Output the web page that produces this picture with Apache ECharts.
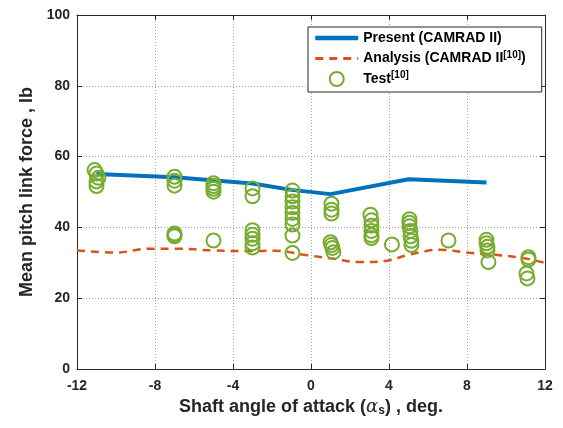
<!DOCTYPE html>
<html>
<head>
<meta charset="utf-8">
<script src="https://cdn.jsdelivr.net/npm/echarts@6/dist/echarts.min.js"></script>
<style>html,body{margin:0;padding:0;background:#fff}#c{width:563px;height:428px}</style>
</head>
<body>
<div id="c"></div>
<script>
// Present (CAMRAD II)
const presentX = [-11, -7, -3, -1, 1, 5, 9];
const presentY = [55.1, 54.2, 52.4, 50.6, 49.4, 53.6, 52.7];
// Analysis (CAMRAD II [10])
const analysisX = [-12, -10, -8.3, -7, -5, -3.3, -1.8, -0.4, 1.1, 2.5, 3.9, 4.9, 5.9, 6.6, 8, 9.3, 10.7, 12];
const analysisY = [33.5, 32.9, 34.0, 34.0, 33.5, 33.3, 33.4, 32.3, 31.2, 30.2, 30.6, 32.1, 33.3, 33.7, 32.9, 32.3, 31.5, 30.0];
// Test [10]
const testX = [-11.1, -11, -10.9, -11, -11,
  -7, -7, -7, -7, -7, -7,
  -5, -5, -5, -5, -5,
  -3, -3, -3, -3, -3, -3, -3,
  -0.95, -0.95, -0.95, -0.95, -0.95, -0.95, -0.95, -0.95, -0.95,
  1.05, 1.05, 1.05, 1.0, 1.05, 1.1, 1.15,
  3.05, 3.1, 3.1, 3.1, 3.1, 3.1,
  4.15,
  5.05, 5.05, 5.05, 5.1, 5.1, 5.15, 5.15,
  7.05,
  9.0, 9.0, 9.05, 9.05, 9.1,
  11.15, 11.15, 11.05, 11.1];
const testY = [56.2, 55.2, 54.0, 53.0, 51.7,
  54.3, 53.2, 51.8, 38.3, 37.8, 37.5,
  52.5, 51.7, 50.9, 50.1, 36.3,
  51.0, 48.8, 39.2, 37.9, 36.8, 35.5, 34.3,
  50.4, 48.8, 47.3, 45.7, 44.1, 42.4, 40.8, 37.7, 32.8,
  46.7, 45.0, 43.9, 35.8, 35.0, 34.2, 33.0,
  43.6, 42.0, 40.5, 39.0, 37.8, 37.0,
  35.2,
  42.3, 41.3, 40.3, 39.0, 37.5, 36.2, 35.0,
  36.3,
  36.5, 35.5, 34.5, 33.5, 30.2,
  31.6, 30.9, 27.0, 25.6];
const xTicks = {min: -12, max: 12, interval: 4};
const yTicks = {min: 0, max: 100, interval: 20};

const pair = (xs, ys) => xs.map((x, i) => [x, ys[i]]);
const FONT = '"Liberation Sans", Arial, sans-serif';
const gridLine = {show: true, lineStyle: {color: '#a0a0a0', type: [1, 2], width: 1}};
const axLine = {show: true, onZero: false, lineStyle: {color: '#262626', width: 1}};
const tick = {show: true, inside: true, length: 5, lineStyle: {color: '#262626'}};

const chart = echarts.init(document.getElementById('c'), null, {renderer: 'canvas'});
chart.setOption({
  animation: false,
  backgroundColor: '#ffffff',
  textStyle: {fontFamily: FONT},
  grid: {left: 77, right: 18, top: 15, bottom: 59, containLabel: false},
  legend: {
    left: 308, top: 27, orient: 'vertical',
    padding: [4, 16, 5, 5],
    itemGap: 5,
    itemWidth: 43, itemHeight: 14,
    borderColor: '#262626', borderWidth: 1, backgroundColor: '#fff',
    textStyle: {
      fontFamily: FONT, fontWeight: 'bold', fontSize: 14, color: '#000',
      rich: {
        t: {fontFamily: FONT, fontWeight: 'bold', fontSize: 14, color: '#000'},
        s: {fontFamily: FONT, fontWeight: 'bold', fontSize: 10, color: '#000', verticalAlign: 'top', padding: [0, 0, 7, 0]}
      }
    },
    formatter: function (name) {
      if (name === 'Present (CAMRAD II)') return '{t|Present (CAMRAD II)}';
      if (name === 'Analysis') return '{t|Analysis (CAMRAD II}{s|[10]}{t|)}';
      return '{t|Test}{s|[10]}';
    },
    data: [
      {name: 'Present (CAMRAD II)', itemStyle: {opacity: 0}, lineStyle: {width: 4.5, color: '#0072BD'}},
      {name: 'Analysis', itemStyle: {opacity: 0}, lineStyle: {width: 3, color: '#D95319', type: [8, 6]}},
      {name: 'Test'}
    ]
  },
  xAxis: [{
    type: 'value', min: xTicks.min, max: xTicks.max, interval: xTicks.interval,
    axisLine: axLine, axisTick: tick, splitLine: gridLine,
    axisLabel: {fontFamily: FONT, fontWeight: 'bold', fontSize: 14, color: '#262626', margin: 10},
    name: '{t|Shaft angle of attack (}{a|α}{s|s}{t|) , deg.}',
    nameLocation: 'middle', nameGap: 27,
    nameTextStyle: {
      rich: {
        t: {fontFamily: FONT, fontWeight: 'bold', fontSize: 18, color: '#262626'},
        a: {fontFamily: '"DejaVu Serif", serif', fontStyle: 'italic', fontSize: 18, color: '#262626'},
        s: {fontFamily: FONT, fontWeight: 'bold', fontSize: 12, color: '#262626', verticalAlign: 'bottom', padding: [8, 0, 0, 0]}
      }
    }
  }, {
    type: 'value', position: 'top', min: xTicks.min, max: xTicks.max, interval: xTicks.interval,
    axisLine: axLine, axisTick: tick, splitLine: {show: false}, axisLabel: {show: false}
  }],
  yAxis: [{
    type: 'value', min: yTicks.min, max: yTicks.max, interval: yTicks.interval,
    axisLine: axLine, axisTick: tick, splitLine: gridLine,
    axisLabel: {fontFamily: FONT, fontWeight: 'bold', fontSize: 14, color: '#262626', margin: 7},
    name: 'Mean pitch link force , lb', nameLocation: 'middle', nameGap: 40, nameRotate: 90,
    nameTextStyle: {fontFamily: FONT, fontWeight: 'bold', fontSize: 18, color: '#262626'}
  }, {
    type: 'value', position: 'right', min: yTicks.min, max: yTicks.max, interval: yTicks.interval,
    axisLine: axLine, axisTick: tick, splitLine: {show: false}, axisLabel: {show: false}
  }],
  series: [
    {
      name: 'Present (CAMRAD II)', type: 'line', data: pair(presentX, presentY),
      symbol: 'none', lineStyle: {color: '#0072BD', width: 4}, itemStyle: {color: '#0072BD'}, z: 3
    },
    {
      name: 'Analysis', type: 'line', data: pair(analysisX, analysisY), smooth: 0.4,
      symbol: 'none', lineStyle: {color: '#D95319', width: 2.5, type: [8, 6]}, itemStyle: {color: '#D95319'}, z: 2
    },
    {
      name: 'Test', type: 'scatter', data: pair(testX, testY),
      symbol: 'circle', symbolSize: 14,
      itemStyle: {color: 'rgba(0,0,0,0)', borderColor: '#77AC30', borderWidth: 2, opacity: 1}, z: 4
    }
  ]
});
</script>
</body>
</html>
